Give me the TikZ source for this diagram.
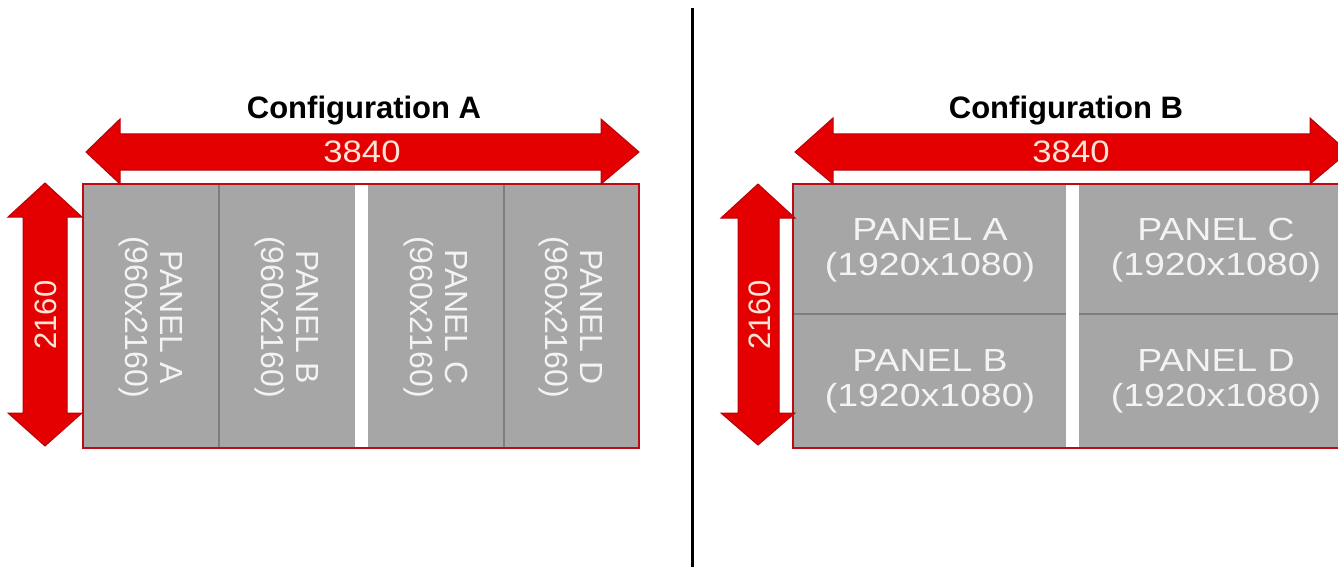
\documentclass[tikz,border=0pt]{standalone}
\usepackage{fontspec}
\setmainfont{Liberation Sans}
\definecolor{arrred}{RGB}{228,0,0}
\definecolor{arredge}{RGB}{185,0,10}
\definecolor{boxedge}{RGB}{190,10,20}
\definecolor{panelgray}{RGB}{166,166,166}
\definecolor{divgray}{RGB}{125,125,125}
\definecolor{paneltext}{RGB}{243,243,243}
\definecolor{dimtext}{RGB}{255,228,215}
\tikzset{
  dimarrow/.style={fill=arrred, draw=arredge, line width=1pt, line join=miter},
  panelbox/.style={fill=panelgray},
  boxborder/.style={draw=boxedge, line width=2pt},
  divline/.style={draw=divgray, line width=2pt},
  gapstrip/.style={fill=white},
  paneltxt/.style={text=paneltext, align=center, inner sep=0pt,
    font=\fontsize{32}{35}\selectfont},
  dimtxt/.style={text=dimtext, inner sep=0pt, font=\fontsize{31}{35}\selectfont},
  titletxt/.style={text=black, inner sep=0pt, font=\fontsize{31}{36}\selectfont\bfseries},
}
\begin{document}
\begin{tikzpicture}[x=1pt,y=-1pt]
\useasboundingbox (0,0) rectangle (1338,567);
\begin{scope}
\clip (0,0) rectangle (1338,567);

% separator
\coordinate (septop) at (692,8);
\coordinate (sepbot) at (692,567);
\draw[black, line width=3pt] (septop) -- (sepbot);

% titles
\node[titletxt, anchor=base] (titleA) at (364,119) {Configuration A};
\node[titletxt, anchor=base] (titleB) at (1066,119) {Configuration B};

% ---------- Configuration A ----------
\fill[panelbox] (83,184) rectangle (639,448);
\draw[divline] (219,184) -- (219,448);
\draw[divline] (504,184) -- (504,448);
\fill[gapstrip] (355,185) rectangle (368,447);
\draw[boxborder] (83,184) rectangle (639,448);

\node[paneltxt, rotate=-90] (pA1) at (151,317) {PANEL A\\(960x2160)};
\node[paneltxt, rotate=-90] (pA2) at (287,317) {PANEL B\\(960x2160)};
\node[paneltxt, rotate=-90] (pA3) at (436,317) {PANEL C\\(960x2160)};
\node[paneltxt, rotate=-90] (pA4) at (571,317) {PANEL D\\(960x2160)};

% horizontal dimension arrow A
\draw[dimarrow] (86,152) -- (120,119) -- (120,134) -- (601,134) -- (601,119) -- (639,152)
  -- (601,184) -- (601,170) -- (120,170) -- (120,184) -- cycle;
\node[dimtxt, xscale=1.12] (wA) at (362,152) {3840};

% vertical dimension arrow A
\draw[dimarrow] (45,183) -- (8,217) -- (23,217) -- (23,413) -- (8,413) -- (45,446)
  -- (82,413) -- (67,413) -- (67,217) -- (82,217) -- cycle;
\node[dimtxt, rotate=90] (hA) at (46,315) {2160};

% ---------- Configuration B ----------
\fill[panelbox] (793,184) rectangle (1352,448);
\draw[divline] (793,314) -- (1352,314);
\fill[gapstrip] (1066,185) rectangle (1079,447);
\draw[boxborder] (793,184) rectangle (1352,448);

\node[paneltxt, xscale=1.17] (pB1) at (930,250) {PANEL A\\(1920x1080)};
\node[paneltxt, xscale=1.17] (pB3) at (1216,250) {PANEL C\\(1920x1080)};
\node[paneltxt, xscale=1.17] (pB2) at (930,381) {PANEL B\\(1920x1080)};
\node[paneltxt, xscale=1.17] (pB4) at (1216,381) {PANEL D\\(1920x1080)};

% horizontal dimension arrow B
\draw[dimarrow] (795,152) -- (833,118) -- (833,134) -- (1310,134) -- (1310,118) -- (1348,152)
  -- (1310,184) -- (1310,170) -- (833,170) -- (833,184) -- cycle;
\node[dimtxt, xscale=1.12] (wB) at (1071,152) {3840};

% vertical dimension arrow B
\draw[dimarrow] (758,184) -- (721,218) -- (738,218) -- (738,413) -- (721,413) -- (758,445)
  -- (795,413) -- (779,413) -- (779,218) -- (795,218) -- cycle;
\node[dimtxt, rotate=90] (hB) at (760,315) {2160};
\end{scope}
\end{tikzpicture}
\end{document}
